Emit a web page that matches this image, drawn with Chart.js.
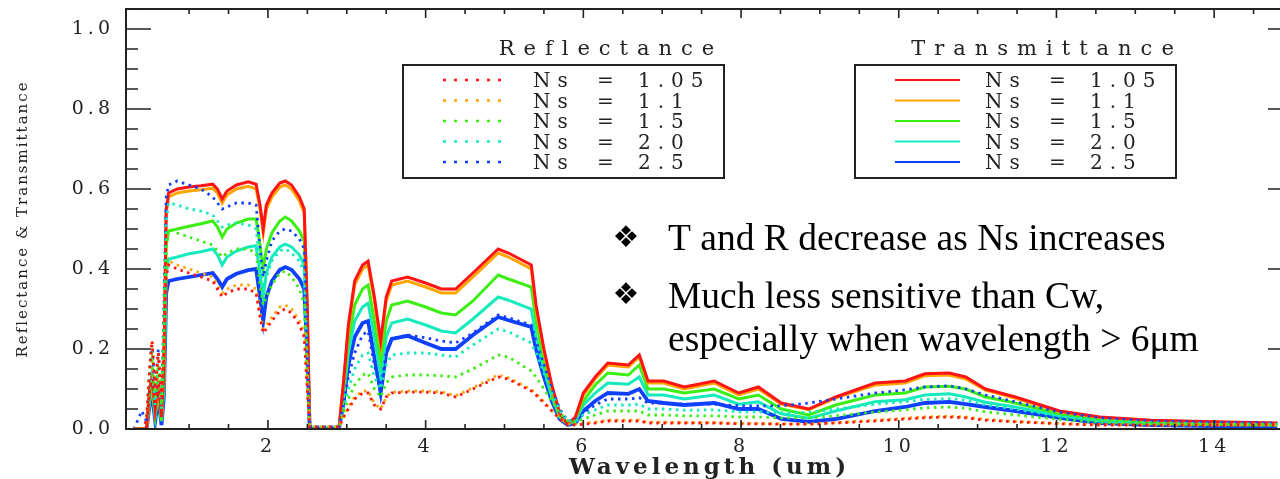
<!DOCTYPE html>
<html>
<head>
<meta charset="utf-8">
<script src="https://cdn.jsdelivr.net/npm/chart.js@4.4.0/dist/chart.umd.min.js"></script>
<style>
  html, body { margin: 0; padding: 0; background: #fff; overflow: hidden; }
  #wrap { width: 1300px; height: 479px; }
</style>
</head>
<body>
<div id="wrap"><canvas id="chart" width="1300" height="479"></canvas></div>
<script>
// wavelength (um)
const wavelength = [0.30, 0.40, 0.46, 0.50, 0.53, 0.57, 0.61, 0.65, 0.68, 0.71,
  0.74, 0.85, 1.00, 1.15, 1.30, 1.36, 1.42, 1.48, 1.60, 1.75,
  1.85, 1.90, 1.94, 1.98, 2.05, 2.15, 2.22, 2.30, 2.40, 2.46,
  2.50, 2.53, 2.70, 2.90, 2.96, 3.02, 3.10, 3.20, 3.27, 3.35,
  3.43, 3.50, 3.57, 3.77, 4.00, 4.20, 4.38, 4.60, 4.92, 5.05,
  5.34, 5.40, 5.50, 5.60, 5.70, 5.80, 5.90, 6.00, 6.15, 6.31,
  6.57, 6.71, 6.82, 7.02, 7.28, 7.66, 7.97, 8.22, 8.51, 8.86,
  9.20, 9.70, 10.08, 10.33, 10.64, 10.85, 11.10, 11.48, 12.04, 12.55,
  13.20, 14.00, 14.80];

// transmittance (solid lines)
const transNs105 = [0, 0, 0, 0.10, 0.13, 0.05, 0.12, 0.03, 0.15, 0.55,
  0.59, 0.60, 0.605, 0.608, 0.612, 0.60, 0.575, 0.595, 0.61, 0.618,
  0.612, 0.56, 0.50, 0.56, 0.59, 0.615, 0.62, 0.61, 0.58, 0.55,
  0.30, 0, 0, 0, 0.12, 0.26, 0.37, 0.41, 0.42, 0.33,
  0.22, 0.33, 0.37, 0.38, 0.365, 0.35, 0.35, 0.39, 0.45, 0.44,
  0.41, 0.31, 0.20, 0.11, 0.04, 0.012, 0.03, 0.09, 0.13, 0.165,
  0.16, 0.185, 0.12, 0.12, 0.105, 0.12, 0.09, 0.105, 0.065, 0.05,
  0.08, 0.115, 0.12, 0.138, 0.14, 0.13, 0.10, 0.08, 0.045, 0.03,
  0.022, 0.018, 0.015];
const transNs11 = [0, 0, 0, 0.10, 0.13, 0.05, 0.11, 0.03, 0.15, 0.54,
  0.58, 0.59, 0.595, 0.598, 0.602, 0.59, 0.565, 0.585, 0.60, 0.607,
  0.60, 0.55, 0.49, 0.55, 0.58, 0.605, 0.61, 0.60, 0.57, 0.54,
  0.29, 0, 0, 0, 0.12, 0.25, 0.36, 0.40, 0.41, 0.32,
  0.21, 0.32, 0.36, 0.37, 0.355, 0.34, 0.34, 0.38, 0.44, 0.43,
  0.40, 0.30, 0.195, 0.105, 0.04, 0.012, 0.03, 0.085, 0.125, 0.16,
  0.155, 0.18, 0.115, 0.115, 0.10, 0.115, 0.085, 0.10, 0.062, 0.048,
  0.078, 0.11, 0.115, 0.133, 0.135, 0.125, 0.097, 0.077, 0.043, 0.029,
  0.021, 0.017, 0.014];
const transNs15 = [0, 0, 0, 0.08, 0.12, 0.04, 0.10, 0.02, 0.12, 0.46,
  0.495, 0.50, 0.507, 0.513, 0.52, 0.505, 0.48, 0.50, 0.515, 0.525,
  0.525, 0.46, 0.40, 0.45, 0.49, 0.52, 0.53, 0.52, 0.495, 0.47,
  0.25, 0, 0, 0, 0.10, 0.22, 0.31, 0.35, 0.36, 0.27,
  0.17, 0.27, 0.31, 0.32, 0.305, 0.29, 0.285, 0.32, 0.385, 0.375,
  0.355, 0.27, 0.17, 0.09, 0.035, 0.012, 0.025, 0.07, 0.11, 0.14,
  0.135, 0.16, 0.10, 0.10, 0.09, 0.10, 0.075, 0.085, 0.05, 0.035,
  0.06, 0.085, 0.09, 0.105, 0.107, 0.10, 0.08, 0.065, 0.038, 0.025,
  0.018, 0.014, 0.012];
const transNs20 = [0, 0, 0, 0.07, 0.10, 0.03, 0.09, 0.02, 0.10, 0.39,
  0.425, 0.43, 0.438, 0.443, 0.45, 0.435, 0.41, 0.43, 0.445, 0.455,
  0.458, 0.39, 0.33, 0.39, 0.43, 0.455, 0.462, 0.455, 0.435, 0.41,
  0.22, 0, 0, 0, 0.08, 0.19, 0.27, 0.305, 0.315, 0.23,
  0.13, 0.23, 0.265, 0.275, 0.26, 0.245, 0.24, 0.275, 0.33, 0.322,
  0.30, 0.23, 0.15, 0.08, 0.03, 0.012, 0.02, 0.06, 0.09, 0.115,
  0.112, 0.13, 0.085, 0.085, 0.075, 0.085, 0.062, 0.068, 0.038, 0.027,
  0.045, 0.068, 0.073, 0.085, 0.088, 0.08, 0.067, 0.055, 0.033, 0.02,
  0.015, 0.012, 0.01];
const transNs25 = [0, 0, 0, 0.06, 0.09, 0.02, 0.08, 0.01, 0.08, 0.34,
  0.37, 0.375, 0.38, 0.385, 0.39, 0.375, 0.355, 0.375, 0.388, 0.397,
  0.40, 0.33, 0.27, 0.33, 0.37, 0.398, 0.405, 0.398, 0.375, 0.35,
  0.19, 0, 0, 0, 0.07, 0.16, 0.23, 0.265, 0.27, 0.18,
  0.09, 0.19, 0.225, 0.233, 0.215, 0.20, 0.20, 0.235, 0.28, 0.272,
  0.255, 0.20, 0.13, 0.07, 0.025, 0.01, 0.015, 0.045, 0.07, 0.09,
  0.088, 0.10, 0.07, 0.065, 0.06, 0.065, 0.05, 0.05, 0.025, 0.018,
  0.025, 0.045, 0.055, 0.065, 0.068, 0.062, 0.055, 0.045, 0.028, 0.015,
  0.01, 0.007, 0.005];

// reflectance (dotted lines)
const reflNs105 = [0, 0, 0.02, 0.15, 0.22, 0.10, 0.19, 0.08, 0.20, 0.38,
  0.41, 0.40, 0.39, 0.38, 0.37, 0.35, 0.33, 0.34, 0.35, 0.35,
  0.34, 0.28, 0.24, 0.25, 0.27, 0.295, 0.30, 0.29, 0.26, 0.23,
  0.10, 0.005, 0.005, 0.005, 0.03, 0.05, 0.075, 0.09, 0.09, 0.06,
  0.05, 0.08, 0.09, 0.092, 0.092, 0.09, 0.08, 0.10, 0.13, 0.125,
  0.095, 0.085, 0.065, 0.045, 0.025, 0.012, 0.01, 0.012, 0.015, 0.02,
  0.02, 0.02, 0.015, 0.015, 0.015, 0.015, 0.013, 0.013, 0.012, 0.012,
  0.015, 0.02, 0.025, 0.028, 0.03, 0.028, 0.022, 0.018, 0.013, 0.01,
  0.01, 0.01, 0.01];
const reflNs11 = [0, 0, 0.02, 0.16, 0.22, 0.10, 0.19, 0.08, 0.20, 0.39,
  0.42, 0.41, 0.40, 0.39, 0.38, 0.36, 0.34, 0.35, 0.36, 0.36,
  0.35, 0.29, 0.25, 0.26, 0.28, 0.305, 0.31, 0.30, 0.27, 0.24,
  0.10, 0.005, 0.005, 0.005, 0.03, 0.055, 0.08, 0.095, 0.095, 0.065,
  0.05, 0.08, 0.092, 0.095, 0.095, 0.093, 0.083, 0.103, 0.135, 0.128,
  0.098, 0.088, 0.068, 0.047, 0.027, 0.013, 0.012, 0.014, 0.017, 0.022,
  0.022, 0.022, 0.017, 0.017, 0.016, 0.016, 0.014, 0.014, 0.013, 0.013,
  0.016, 0.022, 0.027, 0.03, 0.032, 0.03, 0.024, 0.019, 0.014, 0.011,
  0.01, 0.01, 0.01];
const reflNs15 = [0, 0, 0.02, 0.12, 0.17, 0.08, 0.16, 0.06, 0.22, 0.46,
  0.50, 0.49, 0.48, 0.47, 0.46, 0.445, 0.43, 0.44, 0.45, 0.45,
  0.44, 0.36, 0.31, 0.33, 0.36, 0.39, 0.395, 0.38, 0.35, 0.31,
  0.13, 0.005, 0.005, 0.005, 0.04, 0.075, 0.11, 0.135, 0.14, 0.10,
  0.08, 0.115, 0.13, 0.135, 0.135, 0.133, 0.13, 0.15, 0.185, 0.18,
  0.145, 0.13, 0.10, 0.07, 0.04, 0.02, 0.018, 0.025, 0.035, 0.045,
  0.045, 0.045, 0.035, 0.035, 0.033, 0.033, 0.03, 0.03, 0.028, 0.028,
  0.033, 0.042, 0.048, 0.053, 0.055, 0.052, 0.043, 0.035, 0.024, 0.017,
  0.013, 0.011, 0.01];
const reflNs20 = [0, 0, 0.02, 0.10, 0.15, 0.06, 0.15, 0.05, 0.25, 0.52,
  0.565, 0.56, 0.55, 0.545, 0.535, 0.52, 0.505, 0.51, 0.515, 0.51,
  0.50, 0.41, 0.35, 0.38, 0.42, 0.445, 0.45, 0.44, 0.42, 0.39,
  0.16, 0.005, 0.005, 0.005, 0.05, 0.10, 0.15, 0.185, 0.19, 0.13,
  0.10, 0.16, 0.185, 0.19, 0.19, 0.185, 0.18, 0.21, 0.25, 0.243,
  0.215, 0.19, 0.14, 0.09, 0.045, 0.02, 0.02, 0.035, 0.048, 0.06,
  0.06, 0.062, 0.05, 0.05, 0.047, 0.048, 0.043, 0.043, 0.04, 0.042,
  0.05, 0.062, 0.068, 0.074, 0.076, 0.072, 0.06, 0.05, 0.032, 0.022,
  0.016, 0.013, 0.012];
const reflNs25 = [0, 0.045, 0.02, 0.14, 0.21, 0.09, 0.20, 0.06, 0.30, 0.58,
  0.61, 0.62, 0.61, 0.60, 0.58, 0.565, 0.55, 0.555, 0.565, 0.565,
  0.56, 0.45, 0.38, 0.42, 0.47, 0.495, 0.50, 0.495, 0.475, 0.45,
  0.18, 0.005, 0.005, 0.005, 0.06, 0.13, 0.19, 0.235, 0.245, 0.16,
  0.10, 0.19, 0.225, 0.235, 0.228, 0.22, 0.215, 0.24, 0.285, 0.278,
  0.26, 0.22, 0.16, 0.10, 0.05, 0.02, 0.022, 0.04, 0.06, 0.075,
  0.075, 0.078, 0.065, 0.065, 0.062, 0.062, 0.058, 0.058, 0.058, 0.065,
  0.075, 0.09, 0.098, 0.105, 0.108, 0.10, 0.085, 0.068, 0.042, 0.028,
  0.02, 0.017, 0.015];

const nsLabels = ['1.05', '1.1', '1.5', '2.0', '2.5'];
const xTickLabels = [2, 4, 6, 8, 10, 12, 14];
const yTickLabels = [0, 0.2, 0.4, 0.6, 0.8, 1.0];
const notes = [
  'T and R decrease as Ns increases',
  'Much less sensitive than Cw,',
  'especially when wavelength > 6\u03bcm'
];

const colors = ['#ff1414', '#ffa500', '#3bee14', '#14eabb', '#1040ff'];
const reflSeries = [reflNs105, reflNs11, reflNs15, reflNs20, reflNs25];
const transSeries = [transNs105, transNs11, transNs15, transNs20, transNs25];
const DOTS = [2.5, 4.5];
const AXIS_FONT = 'DejaVu Serif';

const toPoints = (arr) => wavelength.map((x, i) => ({ x: x, y: arr[i] }));

const datasets = [];
reflSeries.forEach((arr, i) => {
  datasets.push({
    label: 'R Ns = ' + nsLabels[i],
    data: toPoints(arr),
    borderColor: colors[i],
    borderWidth: 2.8,
    borderDash: DOTS,
    pointRadius: 0,
    tension: 0,
  });
});
transSeries.forEach((arr, i) => {
  datasets.push({
    label: 'T Ns = ' + nsLabels[i],
    data: toPoints(arr),
    borderColor: colors[i],
    borderWidth: i === 4 ? 3.8 : 3,
    pointRadius: 0,
    tension: 0,
  });
});

const near = (list, v) => list.find((t) => Math.abs(t - v) < 1e-6);

const drawLegendBox = (ctx, left, titleX, title, dashed) => {
  const top = 65, w = 321, h = 113;
  ctx.strokeStyle = '#222';
  ctx.lineWidth = 2;
  ctx.setLineDash([]);
  ctx.strokeRect(left, top, w, h);

  ctx.fillStyle = '#222';
  ctx.textAlign = 'center';
  ctx.textBaseline = 'alphabetic';
  ctx.font = '21px "' + AXIS_FONT + '"';
  ctx.letterSpacing = '9px';
  ctx.fillText(title, titleX + 4, 55);

  ctx.font = '20px "' + AXIS_FONT + '"';
  ctx.letterSpacing = '7px';
  nsLabels.forEach((lab, i) => {
    const y = 80 + i * 20.5;
    ctx.strokeStyle = colors[i];
    ctx.lineWidth = dashed ? 2.4 : 2;
    ctx.setLineDash(dashed ? [3, 8] : []);
    ctx.beginPath();
    ctx.moveTo(left + 40, y);
    ctx.lineTo(left + 105, y);
    ctx.stroke();
    ctx.setLineDash([]);
    ctx.fillStyle = '#222';
    ctx.textAlign = 'left';
    ctx.fillText('Ns', left + 130, y + 7);
    ctx.textAlign = 'center';
    ctx.fillText('=', left + 206, y + 7);
    ctx.textAlign = 'left';
    ctx.fillText(lab, left + 235, y + 7);
  });
};

const framePlugin = {
  id: 'frame',
  beforeDraw(chart) {
    chart.ctx.letterSpacing = '4px';
  },
  afterDraw(chart) {
    const { ctx, chartArea: a, scales } = chart;
    const xs = scales.x, ys = scales.y;
    ctx.save();
    ctx.setLineDash([]);
    ctx.strokeStyle = '#222';
    ctx.lineWidth = 2;
    ctx.beginPath();
    ctx.moveTo(a.left, a.top);
    ctx.lineTo(a.left, a.bottom);
    ctx.lineTo(a.right, a.bottom);
    ctx.lineTo(a.right, a.top);
    ctx.closePath();
    ctx.stroke();

    // inward tick marks
    ctx.lineWidth = 1.6;
    ctx.beginPath();
    xs.ticks.forEach((t) => {
      const v = t.value;
      if (Math.abs(v * 2 - Math.round(v * 2)) > 1e-6) return;
      const len = near(xTickLabels, v) !== undefined ? 9 : 5;
      const px = xs.getPixelForValue(v);
      ctx.moveTo(px, a.bottom); ctx.lineTo(px, a.bottom - len);
      ctx.moveTo(px, a.top); ctx.lineTo(px, a.top + len);
    });
    ys.ticks.forEach((t) => {
      const v = t.value;
      const len = near(yTickLabels, v) !== undefined ? 25 : 12;
      const py = ys.getPixelForValue(v);
      ctx.moveTo(a.left, py); ctx.lineTo(a.left + len, py);
      ctx.moveTo(a.right, py); ctx.lineTo(a.right - len, py);
    });
    ctx.stroke();

    // y axis title
    ctx.save();
    ctx.translate(23, (a.top + a.bottom) / 2);
    ctx.rotate(-Math.PI / 2);
    ctx.fillStyle = '#222';
    ctx.font = '15px "' + AXIS_FONT + '"';
    ctx.letterSpacing = '2px';
    ctx.textAlign = 'center';
    ctx.textBaseline = 'middle';
    ctx.fillText('Reflectance & Transmittance', 0, 0);
    ctx.restore();

    // legends
    drawLegendBox(ctx, 403, 607, 'Reflectance', true);
    drawLegendBox(ctx, 855, 1043, 'Transmittance', false);

    // notes
    ctx.letterSpacing = '0px';
    ctx.fillStyle = '#000';
    ctx.textAlign = 'center';
    ctx.textBaseline = 'middle';
    ctx.font = '30px "DejaVu Sans"';
    ctx.fillText('\u2756', 626, 239);
    ctx.fillText('\u2756', 626, 296);
    ctx.textAlign = 'left';
    ctx.textBaseline = 'alphabetic';
    ctx.font = '37.5px "Liberation Serif"';
    ctx.fillText(notes[0], 668, 250);
    ctx.fillText(notes[1], 668, 308);
    ctx.fillText(notes[2], 668, 351);
    ctx.restore();
  }
};

new Chart(document.getElementById('chart'), {
  type: 'line',
  data: { datasets: datasets },
  options: {
    responsive: false,
    animation: false,
    events: [],
    layout: { padding: { top: 9, right: 7, left: 0, bottom: 0 } },
    plugins: { legend: { display: false }, tooltip: { enabled: false } },
    scales: {
      x: {
        type: 'linear',
        min: 0.2,
        max: 15,
        grid: { display: false, drawTicks: false },
        border: { display: false },
        ticks: {
          stepSize: 0.5,
          autoSkip: false,
          maxRotation: 0,
          padding: 7,
          color: '#222',
          font: { family: AXIS_FONT, size: 19 },
          callback: (v) => (near(xTickLabels, v) !== undefined ? String(v) : ''),
        },
        title: {
          display: true,
          text: 'Wavelength (um)',
          color: '#222',
          padding: { top: 0, bottom: -3 },
          font: { family: AXIS_FONT, size: 23, weight: 'bold' },
        },
        afterFit: (scale) => {
          scale.height = 50;
          scale.paddingLeft = 0;
          scale.paddingRight = 0;
        },
      },
      y: {
        min: 0,
        max: 1.05,
        grid: { display: false, drawTicks: false },
        border: { display: false },
        ticks: {
          stepSize: 0.05,
          autoSkip: false,
          padding: 12,
          color: '#222',
          font: { family: AXIS_FONT, size: 19 },
          callback: (v) => {
            const m = near(yTickLabels, v);
            return m === undefined ? '' : m.toFixed(1);
          },
        },
        afterFit: (scale) => {
          scale.width = 126;
          scale.paddingTop = 0;
          scale.paddingBottom = 0;
        },
      },
    },
  },
  plugins: [framePlugin],
});
</script>
</body>
</html>
